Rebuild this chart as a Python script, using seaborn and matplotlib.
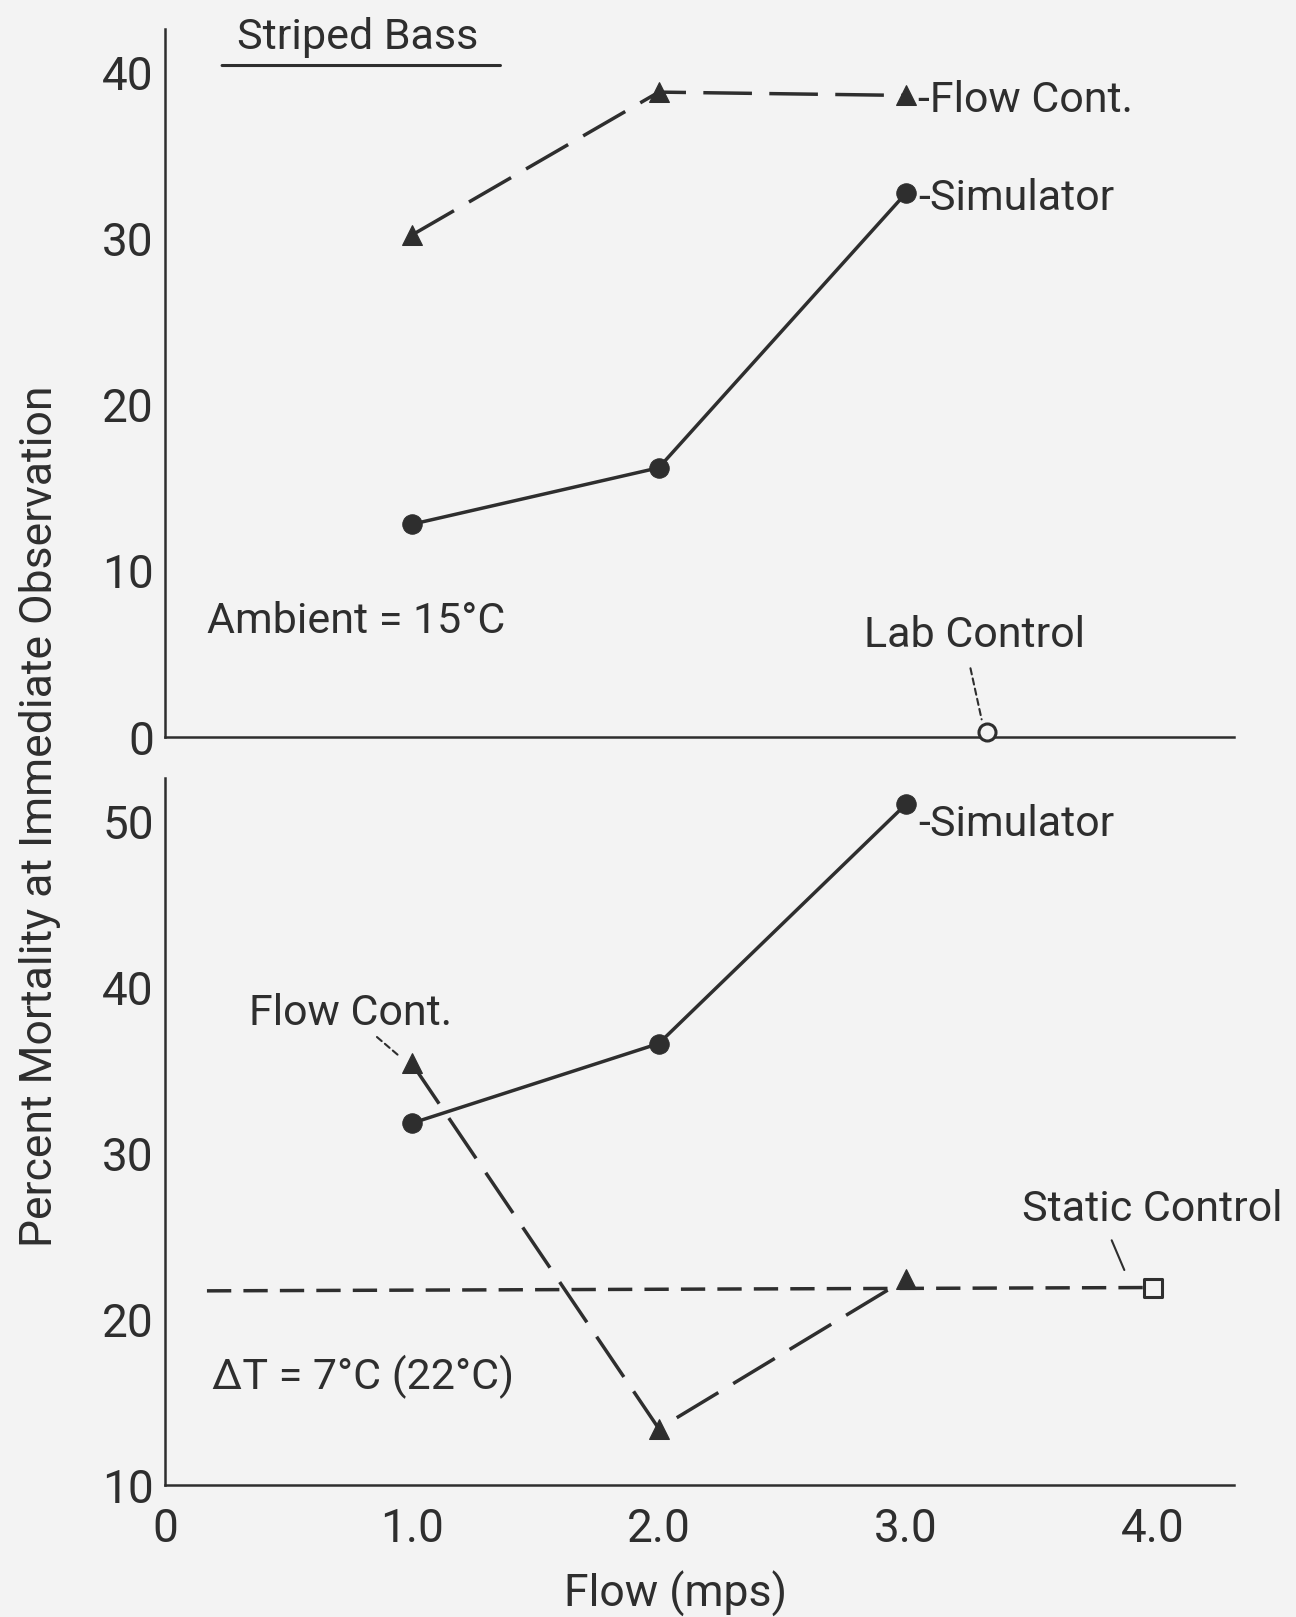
import matplotlib
matplotlib.use("Agg")
import matplotlib.pyplot as plt
import seaborn as sns

# ---------------- data ----------------
flow = [1.0, 2.0, 3.0]

# top panel: Ambient = 15 C
top_flow_cont = [30.2, 38.8, 38.6]
top_simulator = [12.8, 16.2, 32.7]
lab_control_x = [3.33]
lab_control_y = [0.3]

# bottom panel: dT = 7 C (22 C)
bot_simulator = [31.8, 36.6, 51.0]
bot_flow_cont = [35.4, 13.4, 22.4]
static_x = [0.17, 4.0]
static_y = [21.7, 21.9]

x_ticks = [0, 1, 2, 3, 4]
x_ticklabels = ["0", "1.0", "2.0", "3.0", "4.0"]
top_yticks = [0, 10, 20, 30, 40]
bot_yticks = [10, 20, 30, 40, 50]

# ---------------- style ----------------
sns.set_style("white")
plt.rcParams['font.family'] = ['Roboto', 'DejaVu Sans']
INK = "#2e2e2e"
BG = "#f3f3f3"
FS = 31

fig = plt.figure(figsize=(12.96, 16.17), dpi=100, facecolor=BG)
ax1 = fig.add_axes([0.1273, 0.5442, 0.8249, 0.4379])
ax2 = fig.add_axes([0.1273, 0.0816, 0.8249, 0.4373])

LW = 2.5
long_dash = (0, (14, 5))
short_dash = (0, (7, 3.5))

# ---- top panel ----
sns.lineplot(x=flow, y=top_flow_cont, ax=ax1, color=INK, lw=LW, sort=False,
             estimator=None, marker="^", markersize=14, mec=INK, mfc=INK,
             linestyle=long_dash)
sns.lineplot(x=flow, y=top_simulator, ax=ax1, color=INK, lw=LW, sort=False,
             estimator=None, marker="o", markersize=14, mec=INK, mfc=INK)
sns.scatterplot(x=lab_control_x, y=lab_control_y, ax=ax1, marker="o", s=150,
                facecolor=BG, edgecolor=INK, linewidth=2.2, zorder=5, clip_on=False)

# ---- bottom panel ----
sns.lineplot(x=static_x, y=static_y, ax=ax2, color=INK, lw=LW, sort=False,
             estimator=None, linestyle=short_dash)
sns.scatterplot(x=static_x[-1:], y=static_y[-1:], ax=ax2, marker="s", s=150,
                facecolor=BG, edgecolor=INK, linewidth=2.2, zorder=5)
sns.lineplot(x=flow, y=bot_simulator, ax=ax2, color=INK, lw=LW, sort=False,
             estimator=None, marker="o", markersize=14, mec=INK, mfc=INK)
sns.lineplot(x=flow, y=bot_flow_cont, ax=ax2, color=INK, lw=LW, sort=False,
             estimator=None, marker="^", markersize=14, mec=INK, mfc=INK,
             linestyle=long_dash)

for ax, yt, ylim in [(ax1, top_yticks, (0, 42.6)), (ax2, bot_yticks, (10, 52.6))]:
    ax.set_facecolor(BG)
    ax.set_xlim(0, 4.33)
    ax.set_ylim(*ylim)
    ax.set_yticks(yt)
    ax.set_yticklabels([str(v) for v in yt])
    ax.set_xticks(x_ticks)
    for s in ["top", "right"]:
        ax.spines[s].set_visible(False)
    for s in ["left", "bottom"]:
        ax.spines[s].set_color(INK)
        ax.spines[s].set_linewidth(1.8)
    ax.tick_params(axis="both", direction="in", color=INK, width=1.8,
                   labelsize=FS + 2, labelcolor=INK)
    ax.tick_params(axis="y", length=26, pad=8)
    ax.tick_params(axis="x", length=30, pad=16)
    ax.set_xlabel("")
    ax.set_ylabel("")

ax1.set_xticklabels([""] * len(x_ticks))
ax2.set_xticklabels(x_ticklabels)
ax2.set_xlabel("Flow (mps)", fontsize=FS + 1, color=INK)
ax2.xaxis.set_label_coords(0.478, -0.122)
fig.text(0.031, 0.495, "Percent Mortality at Immediate Observation",
         rotation=90, fontsize=FS + 1, color=INK, ha="center", va="center")

# ---- annotations top ----
ax1.text(0.29, 42.1, "Striped Bass", fontsize=FS, color=INK, ha="left", va="center")
ax1.annotate("", xy=(1.37, 40.4), xytext=(0.22, 40.4),
             arrowprops=dict(arrowstyle="-", color=INK, lw=2.2))
ax1.text(3.05, 38.3, "-Flow Cont.", fontsize=FS, color=INK, ha="left", va="center")
ax1.text(3.05, 32.4, "-Simulator", fontsize=FS, color=INK, ha="left", va="center")
ax1.text(0.17, 6.95, "Ambient = 15°C", fontsize=FS, color=INK, ha="left", va="center")
ax1.text(2.83, 6.1, "Lab Control", fontsize=FS, color=INK, ha="left", va="center")
ax1.annotate("", xy=(3.31, 0.9), xytext=(3.26, 4.3),
             arrowprops=dict(arrowstyle="-", color=INK, lw=1.5, linestyle=(0, (3, 2))))

# ---- annotations bottom ----
ax2.text(3.05, 49.8, "-Simulator", fontsize=FS, color=INK, ha="left", va="center")
ax2.text(0.34, 38.4, "Flow Cont.", fontsize=FS, color=INK, ha="left", va="center")
ax2.annotate("", xy=(0.96, 35.7), xytext=(0.85, 37.1),
             arrowprops=dict(arrowstyle="-", color=INK, lw=1.5, linestyle=(0, (3, 2))))
ax2.text(3.47, 26.6, "Static Control", fontsize=FS, color=INK, ha="left", va="center")
ax2.annotate("", xy=(3.89, 22.8), xytext=(3.83, 24.9),
             arrowprops=dict(arrowstyle="-", color=INK, lw=1.5))
ax2.text(0.19, 16.5, "ΔT = 7°C (22°C)", fontsize=FS, color=INK, ha="left", va="center")

fig.savefig("out.png", dpi=100, facecolor=BG)
